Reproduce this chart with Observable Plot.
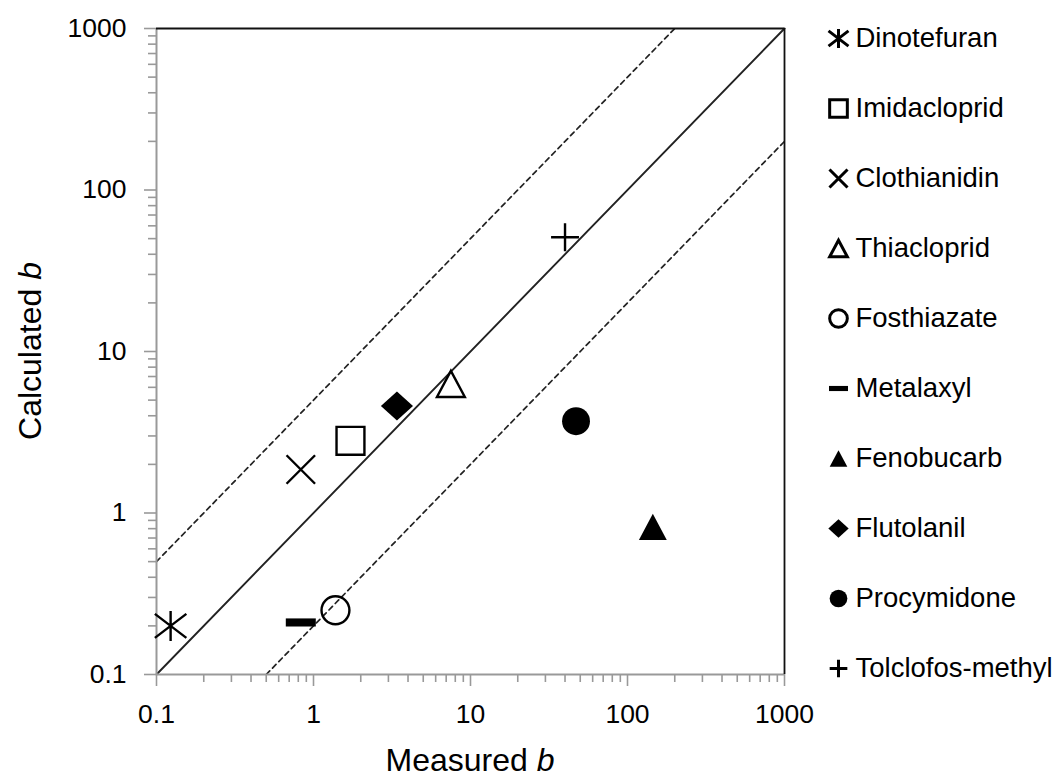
<!DOCTYPE html>
<html>
<head>
<meta charset="utf-8">
<script src="https://cdn.jsdelivr.net/npm/d3@7"></script>
<script src="https://cdn.jsdelivr.net/npm/@observablehq/plot@0.6"></script>
<style>
  html, body { margin: 0; padding: 0; background: white; }
  #wrap { position: relative; width: 1061px; height: 780px; overflow: hidden; }
  #chart { position: absolute; left: 0; top: 0; }
  #legend { position: absolute; left: 820px; top: 0; }
</style>
</head>
<body>
<div id="wrap"><div id="chart"></div><div id="legend"></div></div>
<script>
// ---- data ----
const compounds = ["Dinotefuran", "Imidacloprid", "Clothianidin", "Thiacloprid", "Fosthiazate",
                   "Metalaxyl", "Fenobucarb", "Flutolanil", "Procymidone", "Tolclofos-methyl"];
const measuredB = [0.123, 1.72, 0.83, 7.5, 1.38, 0.83, 145, 3.4, 47, 40];
const calculatedB = [0.20, 2.8, 1.86, 6.3, 0.25, 0.21, 0.82, 4.6, 3.7, 51];
const markerShapes = ["asterisk", "square", "times", "triangle", "circle",
                      "dash", "triangle", "diamond", "circle", "plus"];
const markerFilled = [false, false, false, false, false, true, true, true, true, false];

const tickValues = [0.1, 1, 10, 100, 1000];
const tickLabels = ["0.1", "1", "10", "100", "1000"];
const minorTicks = [0.2, 0.3, 0.4, 0.5, 0.6, 0.7, 0.8, 0.9,
                    2, 3, 4, 5, 6, 7, 8, 9,
                    20, 30, 40, 50, 60, 70, 80, 90,
                    200, 300, 400, 500, 600, 700, 800, 900];

// reference lines: 1:1 and factor-of-5 bands
const identityLine = [[0.1, 0.1], [1000, 1000]];
const upperLine = [[0.1, 0.5], [200, 1000]];
const lowerLine = [[0.5, 0.1], [1000, 200]];

const xTitle = "Measured ";
const yTitle = "Calculated ";
const italicPart = "b";

// ---- symbols ----
const shapeDraw = {
  asterisk: (c, r) => { c.moveTo(0, -r); c.lineTo(0, r);
                        c.moveTo(-1.05 * r, -0.8 * r); c.lineTo(1.05 * r, 0.8 * r);
                        c.moveTo(-1.05 * r, 0.8 * r); c.lineTo(1.05 * r, -0.8 * r); },
  square: (c, r) => { const s = 0.93 * r; c.moveTo(-s, -s); c.lineTo(s, -s); c.lineTo(s, s); c.lineTo(-s, s); c.closePath(); },
  times: (c, r) => { const s = 0.95 * r; c.moveTo(-s, -s); c.lineTo(s, s); c.moveTo(-s, s); c.lineTo(s, -s); },
  triangle: (c, r) => { c.moveTo(0, -0.87 * r); c.lineTo(0.93 * r, 0.87 * r); c.lineTo(-0.93 * r, 0.87 * r); c.closePath(); },
  circle: (c, r) => { const s = 0.93 * r; c.moveTo(s, 0); c.arc(0, 0, s, 0, 2 * Math.PI); c.closePath(); },
  dash: (c, r) => { const h = 0.27 * r; c.moveTo(-r, -h); c.lineTo(r, -h); c.lineTo(r, h); c.lineTo(-r, h); c.closePath(); },
  diamond: (c, r) => { c.moveTo(0, -0.97 * r); c.lineTo(1.07 * r, 0); c.lineTo(0, 0.97 * r); c.lineTo(-1.07 * r, 0); c.closePath(); },
  plus: (c, r) => { const s = 0.93 * r; c.moveTo(-s, 0); c.lineTo(s, 0); c.moveTo(0, -s); c.lineTo(0, s); }
};
const shapeNames = Object.keys(shapeDraw);
const shapeObjects = shapeNames.map(n => ({
  draw(context, size) { shapeDraw[n](context, Math.sqrt(size / Math.PI)); }
}));

const points = compounds.map((name, i) => ({
  name, measured: measuredB[i], calculated: calculatedB[i],
  shape: markerShapes[i], filled: markerFilled[i]
}));

const font = "'Liberation Sans', Arial, Helvetica, sans-serif";
const labelOf = d => tickLabels[tickValues.indexOf(d)];

const chart = Plot.plot({
  width: 800, height: 780,
  marginLeft: 156, marginRight: 16, marginTop: 28, marginBottom: 106,
  x: {type: "log", domain: [0.1, 1000]},
  y: {type: "log", domain: [0.1, 1000]},
  symbol: {domain: shapeNames, range: shapeObjects},
  style: {fontFamily: font, fontSize: "26.5px", color: "black", background: "white", overflow: "visible"},
  marks: [
    Plot.line(upperLine, {stroke: "#222", strokeWidth: 1.7, strokeDasharray: "5,4"}),
    Plot.line(lowerLine, {stroke: "#222", strokeWidth: 1.7, strokeDasharray: "5,4"}),
    Plot.line(identityLine, {stroke: "#222", strokeWidth: 1.9}),
    Plot.axisX(minorTicks, {tickSize: 8, tickFormat: () => "", label: null, stroke: "#999", strokeWidth: 1.6}),
    Plot.axisY(minorTicks, {tickSize: 8, tickFormat: () => "", label: null, stroke: "#999", strokeWidth: 1.6}),
    Plot.axisX(tickValues, {tickSize: 12, tickPadding: 18, tickFormat: labelOf, label: null,
                            stroke: "#999", strokeWidth: 1.6, fill: "black", fontSize: 26.5}),
    Plot.axisY(tickValues, {tickSize: 12, tickPadding: 18, tickFormat: labelOf, label: null,
                            stroke: "#999", strokeWidth: 1.6, fill: "black", fontSize: 26.5}),
    Plot.ruleX([0.1], {stroke: "#999", strokeWidth: 2}),
    Plot.ruleY([0.1], {stroke: "#999", strokeWidth: 2}),
    Plot.ruleY([1000], {stroke: "#111", strokeWidth: 1.8}),
    Plot.ruleX([1000], {stroke: "#111", strokeWidth: 1.8}),
    Plot.dot(points, {filter: d => !d.filled, x: "measured", y: "calculated", symbol: "shape",
                      r: 15, fill: "none", stroke: "black", strokeWidth: 2.4}),
    Plot.dot(points, {filter: d => d.filled, x: "measured", y: "calculated", symbol: "shape",
                      r: 15, fill: "black", stroke: "none"})
  ]
});

// axis titles with italic "b"
{
  const sx = chart.scale("x"), sy = chart.scale("y");
  const cx = (sx.range[0] + sx.range[1]) / 2;
  const cy = (sy.range[0] + sy.range[1]) / 2;
  const svg = d3.select(chart);
  const xt = svg.append("text").attr("x", cx).attr("y", 771).attr("text-anchor", "middle")
    .attr("font-size", 32).attr("fill", "black").attr("font-family", font);
  xt.append("tspan").text(xTitle);
  xt.append("tspan").attr("font-style", "italic").text(italicPart);
  const yt = svg.append("text").attr("transform", `translate(41,${cy}) rotate(-90)`)
    .attr("text-anchor", "middle").attr("font-size", 32).attr("fill", "black").attr("font-family", font);
  yt.append("tspan").text(yTitle);
  yt.append("tspan").attr("font-style", "italic").text(italicPart);
}
document.getElementById("chart").appendChild(chart);

// legend drawn with Plot
const legend = Plot.plot({
  width: 241, height: 780,
  marginLeft: 18, marginRight: 0, marginTop: 0, marginBottom: 0,
  y: {type: "point", domain: compounds, range: [36, 669], padding: 0, axis: null},
  symbol: {domain: shapeNames, range: shapeObjects},
  style: {fontFamily: font, fontSize: "27.5px", color: "black", background: "white", overflow: "visible"},
  marks: [
    Plot.dot(points, {filter: d => !d.filled, y: "name", symbol: "shape", frameAnchor: "left",
                      r: 9.5, fill: "none", stroke: "black", strokeWidth: 3}),
    Plot.dot(points, {filter: d => d.filled, y: "name", symbol: "shape", frameAnchor: "left",
                      r: 9.5, fill: "black", stroke: "none"}),
    Plot.text(points, {y: "name", text: "name", frameAnchor: "left", dx: 17, textAnchor: "start",
                       fill: "black", fontSize: 27.5})
  ]
});
document.getElementById("legend").appendChild(legend);
</script>
</body>
</html>
